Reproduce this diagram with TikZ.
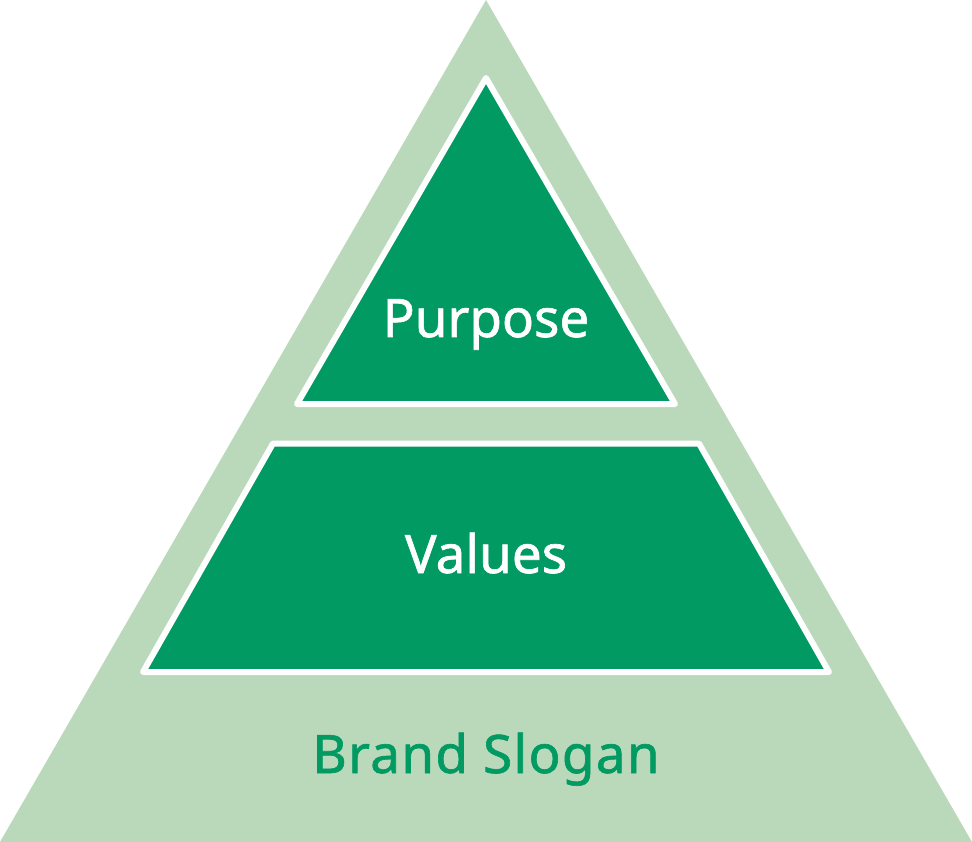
\documentclass[tikz,border=0pt]{standalone}
\usepackage{fontspec}
\setmainfont{Noto Sans}
\newfontfamily\labelfont[FakeBold=1.2]{Noto Sans}
\newfontfamily\sloganfont[FakeBold=1.2,LetterSpace=2.5]{Noto Sans}
\definecolor{lightgreen}{RGB}{186,217,186}
\definecolor{darkgreen}{RGB}{0,154,98}
\begin{document}
\begin{tikzpicture}[x=1pt,y=-1pt,
  tier/.style={fill=darkgreen,draw=white,line width=6pt,line join=round},
  tierlabel/.style={anchor=base,text=white,font=\labelfont\fontsize{53}{60}\selectfont,inner sep=0pt},
  slogan/.style={anchor=base,text=darkgreen,font=\sloganfont\fontsize{53}{60}\selectfont,inner sep=0pt}]
\useasboundingbox (0,0) rectangle (972,842);
\fill[lightgreen] (486,0) -- (972,842) -- (0,842) -- cycle;
\draw[tier] (486,78) -- (675,404) -- (297,404) -- cycle;
\draw[tier] (273,443.5) -- (699,443.5) -- (829,672) -- (143,672) -- cycle;
\node[tierlabel] (purpose) at (486,337) {Purpose};
\node[tierlabel] (values) at (486,573) {Values};
\node[slogan] (slogan) at (486,773) {Brand Slogan};
\end{tikzpicture}
\end{document}
